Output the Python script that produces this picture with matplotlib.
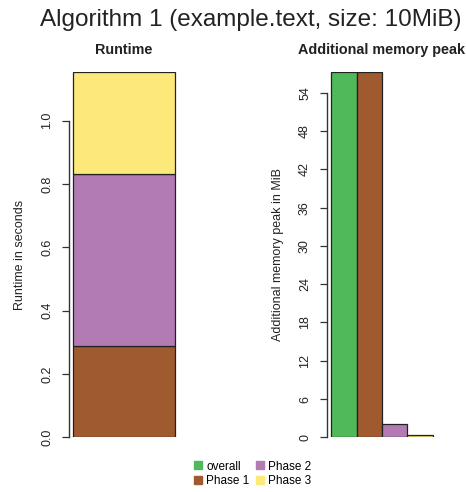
import matplotlib
matplotlib.use("Agg")
import matplotlib.pyplot as plt
from matplotlib.lines import Line2D

plt.rcParams['font.family'] = ['Liberation Sans', 'DejaVu Sans']

# Data
title = "Algorithm 1 (example.text, size: 10MiB)"
phases = ["Phase 1", "Phase 2", "Phase 3"]
runtime_seconds = [0.288, 0.545, 0.320]
memory_labels = ["overall", "Phase 1", "Phase 2", "Phase 3"]
memory_peak_mib = [57.2, 57.2, 2.04, 0.38]
runtime_ticks = [0.0, 0.2, 0.4, 0.6, 0.8, 1.0]
memory_ticks = [0, 6, 12, 18, 24, 30, 36, 42, 48, 54]

colors = {
    "overall": "#50B95A",
    "Phase 1": "#A05A30",
    "Phase 2": "#B27BB3",
    "Phase 3": "#FCE97A",
}

W, H = 466, 492
fig = plt.figure(figsize=(W / 100, H / 100), dpi=100)

def axes_px(x0, x1, y0, y1):
    return fig.add_axes([x0 / W, 1 - y1 / H, (x1 - x0) / W, (y1 - y0) / H])

def style_axis(ax, ticks, fmt, label, label_x):
    for s in ["top", "right", "bottom"]:
        ax.spines[s].set_visible(False)
    ax.spines["left"].set_bounds(ticks[0], ticks[-1])
    ax.spines["left"].set_color("#333333")
    ax.spines["left"].set_linewidth(1.0)
    ax.set_xticks([])
    ax.set_yticks(ticks)
    ax.set_yticklabels([fmt(t) for t in ticks], rotation=90, va="center",
                       fontsize=9, color="#222222")
    ax.tick_params(axis="y", length=5, width=0.9, pad=6.5, color="#333333")
    ax.set_ylabel(label, fontsize=9, color="#222222")
    ax.yaxis.set_label_coords(label_x, 0.5)

# Runtime: stacked single bar
ax1 = axes_px(69, 179, 72.3, 437.3)
bottom = 0.0
for name, val in zip(phases, runtime_seconds):
    ax1.bar(0.5, val, width=1.0, bottom=bottom, color=colors[name],
            edgecolor="#222222", linewidth=0.9)
    bottom += val
ax1.set_xlim(-0.04, 1.04)
ax1.set_ylim(0, sum(runtime_seconds))
style_axis(ax1, runtime_ticks, lambda t: f"{t:.1f}", "Runtime in seconds", -0.395)
ax1.set_title("Runtime", fontsize=10.4, fontweight="bold", pad=13, color="#222222")

# Additional memory peak: side-by-side bars
ax2 = axes_px(327, 437, 72.3, 437.3)
for i, (name, val) in enumerate(zip(memory_labels, memory_peak_mib)):
    ax2.bar(i + 0.5, val, width=1.0, color=colors[name],
            edgecolor="#222222", linewidth=0.9)
ax2.set_xlim(-0.16, 4.16)
ax2.set_ylim(0, max(memory_peak_mib))
style_axis(ax2, memory_ticks, lambda t: f"{t:d}", "Additional memory peak in MiB", -0.395)
ax2.set_title("Additional memory peak", fontsize=10.4, fontweight="bold", pad=13,
              color="#222222")

fig.suptitle(title, fontsize=17.5, x=251 / W, y=1 - 20 / H, va="center", color="#222222")

handles = [Line2D([], [], linestyle="none", marker="s", markersize=5.5,
                  markerfacecolor=colors[n], markeredgecolor=colors[n], label=n)
           for n in memory_labels]
fig.legend(handles=handles, ncol=2, loc="center", bbox_to_anchor=(253 / W, 1 - 474 / H),
           frameon=False, fontsize=8.5, handlelength=0.6, handletextpad=0.4,
           columnspacing=0.6, labelspacing=0.25, borderpad=0)

fig.savefig("out.png", dpi=100, facecolor="white")
